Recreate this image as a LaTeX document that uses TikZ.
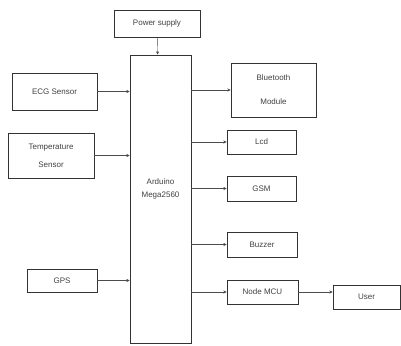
\documentclass[tikz,border=0pt]{standalone}
\usepackage{fontspec}
\setmainfont{Liberation Sans}
\usepackage{tikz}
\usetikzlibrary{
	arrows.meta,
	positioning
}
\tikzset{every path/.append style={line width=0.4pt}}
\tikzset{every path/.append style={>={Stealth[length=3.2pt,width=3.2pt]}}}
\tikzset{
	block/.style={draw=black!80,line width=0.9pt,inner sep=0pt,align=center,text=black!75,font=\fontsize{8}{9}\selectfont},
	link/.style={->,draw=black!70}
}
\newcommand{\tikzBlock}[5][]{\node (#3) at #2 [block,minimum width=#4pt,#1]{#5};}

\begin{document}
\begin{tikzpicture}[x=1pt,y=-1pt]
								\useasboundingbox (0,0) rectangle (401,345);
								\tikzBlock[minimum height=27pt]{(157,23.5)}{power}{86}{Power supply}
								\tikzBlock[minimum height=288pt]{(160.5,199)}{mega}{61}{}
								\node at (160.5,189) [block,draw=none]{Arduino\\[4pt]Mega2560};
								
								\tikzBlock[minimum height=37pt]{(54.5,91.5)}{ecg}{85}{ECG Sensor}
								\tikzBlock[minimum height=45pt]{(51,155.5)}{temp}{86}{Temperature\\[9pt]Sensor}
								\tikzBlock[minimum height=23pt]{(62,280.5)}{gps}{70}{GPS}
								
								\tikzBlock[minimum height=54pt]{(273.5,90)}{bt}{85}{Bluetooth\\[15pt]Module}
								\tikzBlock[minimum height=24pt]{(261.5,142)}{lcd}{69}{Lcd}
								\tikzBlock[minimum height=25pt]{(261.5,188.5)}{gsm}{69}{GSM}
								\tikzBlock[minimum height=25pt]{(262,244.5)}{buzzer}{70}{Buzzer}
								\tikzBlock[minimum height=24pt]{(262.5,292)}{nodemcu}{71}{Node MCU}
								\tikzBlock[minimum height=24pt]{(366.5,297)}{user}{67}{User}
								
								\draw[link] (power) -- (mega);
								\draw[link] (ecg) -- (ecg -| mega.west);
								\draw[link] (temp) -- (temp -| mega.west);
								\draw[link] (gps) -- (gps -| mega.west);
								\draw[link] (mega.east |- bt) -- (bt);
								\draw[link] (mega.east |- lcd) -- (lcd);
								\draw[link] (mega.east |- gsm) -- (gsm);
								\draw[link] (mega.east |- buzzer) -- (buzzer);
								\draw[link] (mega.east |- nodemcu) -- (nodemcu);
								\draw[link] (nodemcu.east) -- (nodemcu.east -| user.west);
							\end{tikzpicture}
\end{document}
